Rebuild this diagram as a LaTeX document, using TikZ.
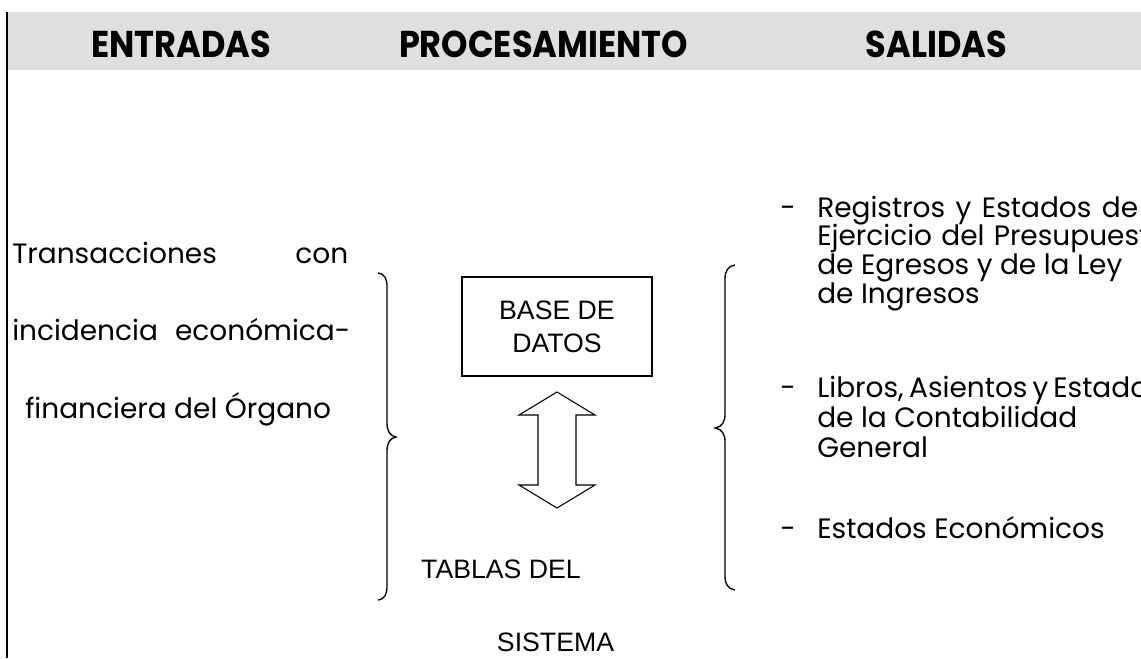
\documentclass[tikz,border=0pt]{standalone}
\usepackage{fontspec}
\setmainfont{Poppins}
\newfontfamily\arialfont{Liberation Sans}
\usetikzlibrary{positioning}
\definecolor{bandgray}{RGB}{223,223,223}
\tikzstyle{head} = [anchor=base, inner sep=0pt,
    font=\fontsize{28}{30}\selectfont\bfseries]
\tikzstyle{block} = [draw, line width=1pt, rectangle, align=center,
    minimum width=142.5pt, minimum height=74.25pt,
    font=\arialfont\fontsize{20}{24.75}\selectfont]
\tikzstyle{txt} = [anchor=base west, inner sep=0pt, font=\fontsize{21}{22}\selectfont]
\tikzstyle{tabla} = [inner sep=0pt, font=\arialfont\fontsize{20}{22}\selectfont]
\tikzstyle{brace} = [line width=1pt]
\newcommand{\narrow}[1]{\scalebox{0.9}[1]{#1}}

\begin{document}
\begin{tikzpicture}[x=0.75pt,y=-0.75pt]
\useasboundingbox (0,0) rectangle (1141,658);
\clip (0,0) rectangle (1141,658);

\coordinate (BD) at (557,326.5);
\coordinate (TB) at (501,569);
\coordinate (SI) at (555.5,642);

\fill[bandgray] (8,12) rectangle (1141,70);
\draw[line width=1pt] (7,12) -- (7,658);

\node[head, name=ent] at (181,57) {\narrow{ENTRADAS}};
\node[head, name=proc] at (543.5,57) {\narrow{PROCESAMIENTO}};
\node[head, name=sal] at (936.5,57) {\narrow{SALIDAS}};

\node[txt, name=tr1] at (12,263) {\makebox[252pt][s]{Transacciones con}};
\node[txt, name=tr2] at (12,340) {\makebox[253.5pt][s]{incidencia económica-}};
\node[txt, name=tr3] at (25,418) {financiera del Órgano};

\draw[brace] (378,273) .. controls (385,274) and (387,279) .. (387,287) -- (387,423)
  .. controls (387,431) and (390,436) .. (396,437)
  .. controls (390,438) and (387,443) .. (387,451) -- (387,586)
  .. controls (387,594) and (385,599) .. (378,600);

\node[block, name=bd] at (BD) {BASE DE\\DATOS};
\draw[line width=0.8pt] (557,392) -- (595,415) -- (576,415) -- (576,485) -- (595,485)
  -- (557,508) -- (519,485) -- (538,485) -- (538,415) -- (519,415) -- cycle;
\node[tabla, name=tabla] at (TB) {TABLAS DEL};
\node[tabla, name=sist] at (SI) {SISTEMA};

\draw[brace] (735,265) .. controls (728,266) and (725,271) .. (725,279) -- (725,414)
  .. controls (725,422) and (722,427) .. (715,428)
  .. controls (722,429) and (725,434) .. (725,442) -- (725,576)
  .. controls (725,584) and (728,589) .. (735,590);

\node[txt, name=g1] at (780,217) {-};
\node[txt, name=reg1] at (817,217) {\makebox[240.75pt][s]{Registros y Estados de}};
\node[txt, name=reg2] at (817,245) {\makebox[262.5pt][s]{Ejercicio del Presupuesto}};
\node[txt, name=reg3] at (817,274) {de Egresos y de la Ley};
\node[txt, name=reg4] at (817,303) {de Ingresos};

\node[txt, name=g2] at (780,397) {-};
\node[txt, name=lib1] at (817,397) {\makebox[258.75pt][s]{Libros, Asientos y Estados}};
\node[txt, name=lib2] at (817,427) {de la Contabilidad};
\node[txt, name=lib3] at (817,457) {General};

\node[txt, name=g3] at (780,538) {-};
\node[txt, name=est] at (817,538) {Estados Económicos};

\end{tikzpicture}
\end{document}
